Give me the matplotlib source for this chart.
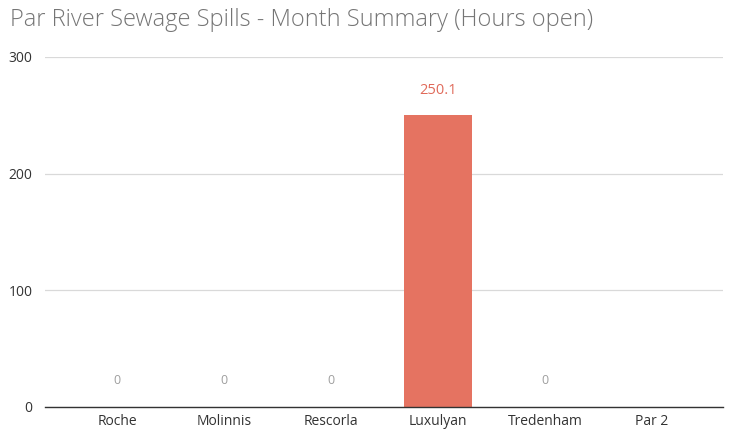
import matplotlib
matplotlib.use("Agg")
import matplotlib.pyplot as plt

sites = ["Roche", "Molinnis", "Rescorla", "Luxulyan", "Tredenham", "Par 2"]
hours_open = [0, 0, 0, 250.1, 0, None]
y_ticks = [0, 100, 200, 300]

plt.rcParams["font.family"] = ["Open Sans", "DejaVu Sans"]

fig = plt.figure(figsize=(7.3, 4.3), dpi=100)
ax = fig.add_axes([45 / 730, 23 / 430, 678 / 730, 350 / 430])

x = list(range(len(sites)))
vals = [v if v is not None else 0 for v in hours_open]
ax.bar(x, vals, width=0.64, color="#E57361", zorder=3)

for xi, v in zip(x, hours_open):
    if v is None:
        continue
    txt = f"{v:g}"
    if v > 0:
        ax.text(xi, v + 15, txt, ha="center", va="bottom", fontsize=10.5,
                color="#E06A5A", zorder=4)
    else:
        ax.text(xi, v + 17, txt, ha="center", va="bottom", fontsize=9,
                color="#9e9e9e", zorder=4)

ax.set_ylim(0, 300)
ax.set_xlim(-0.673, 5.664)
ax.set_yticks(y_ticks)
ax.set_xticks(x)
ax.set_xticklabels(sites)
ax.tick_params(axis="both", length=0, labelsize=10, colors="#333333")
ax.tick_params(axis="y", pad=9)
ax.tick_params(axis="x", pad=5)
for lab in ax.get_yticklabels():
    lab.set_horizontalalignment("right")

ax.grid(axis="y", color="#d9d9d9", linewidth=0.9, zorder=0)
for side in ["top", "right", "left"]:
    ax.spines[side].set_visible(False)
ax.spines["bottom"].set_color("#333333")
ax.spines["bottom"].set_linewidth(1.0)
ax.spines["bottom"].set_zorder(5)

fig.text(10 / 730, 1 - 20 / 430, "Par River Sewage Spills - Month Summary (Hours open)",
         fontsize=17, color="#757575", ha="left", va="center", fontweight="light")

fig.savefig("out.png", dpi=100)
